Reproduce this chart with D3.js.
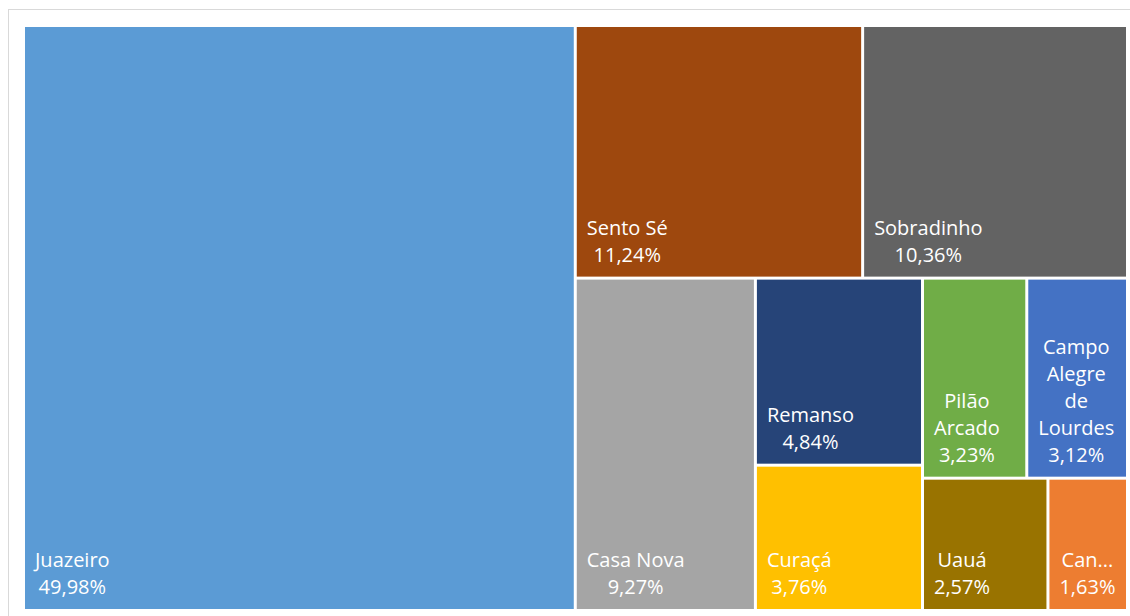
<!DOCTYPE html>
<html>
<head>
<meta charset="utf-8">
<script src="https://cdn.jsdelivr.net/npm/d3@7"></script>
<style>
  body { margin: 0; background: #fff; }
  svg { display: block; }
</style>
</head>
<body>
<svg id="chart"></svg>
<script>
const names = ['Juazeiro', 'Sento Sé', 'Sobradinho', 'Casa Nova', 'Remanso', 'Curaçá',
  'Pilão Arcado', 'Campo Alegre de Lourdes', 'Uauá', 'Canudos']
const shares = [49.98, 11.24, 10.36, 9.27, 4.84, 3.76, 3.23, 3.12, 2.57, 1.63]
const colors = ['#5B9BD5', '#9E480E', '#636363', '#A5A5A5', '#264478', '#FFC000',
  '#70AD47', '#4472C4', '#997300', '#ED7D31']

const width = 1130
const height = 616
const area = {left: 25, top: 27, right: 1126, bottom: 609}
const pad = 10
const lineH = 27
const fontSize = 20

const svg = d3.select('#chart')
  .attr('width', width)
  .attr('height', height)

// chart frame
svg.append('rect')
  .attr('x', 8.5)
  .attr('y', 9.5)
  .attr('width', width)
  .attr('height', height)
  .attr('fill', '#fff')
  .attr('stroke', '#d9d9d9')

const root = d3.hierarchy({children: names.map((n, i) => ({name: n, value: shares[i], color: colors[i]}))})
  .sum(d => d.value || 0)
  .sort((a, b) => b.value - a.value)

d3.treemap()
  .tile(d3.treemapSquarify.ratio(1))
  .size([area.right - area.left, area.bottom - area.top])
  .paddingInner(3)(root)

const fmt = v => v.toFixed(2).replace('.', ',') + '%'

const cells = svg.append('g')
  .attr('transform', `translate(${area.left}, ${area.top})`)
  .selectAll('g')
  .data(root.leaves())
  .join('g')

cells.append('rect')
  .attr('x', d => d.x0)
  .attr('y', d => d.y0)
  .attr('width', d => d.x1 - d.x0)
  .attr('height', d => d.y1 - d.y0)
  .attr('fill', d => d.data.color)

cells.each(function(d) {
  const g = d3.select(this)
  const maxW = d.x1 - d.x0 - 2 * pad + 4
  const text = g.append('text')
    .attr('fill', '#fff')
    .attr('font-family', '"Open Sans", sans-serif')
    .attr('font-size', fontSize)
    .attr('text-anchor', 'middle')

  const probe = text.append('tspan')
  const measure = s => { probe.text(s); return probe.node().getComputedTextLength() }

  // wrap words, truncate a word that will not fit
  const lines = []
  let cur = ''
  d.data.name.split(' ').forEach(w => {
    if(measure(w) > maxW) {
      let k = w.length
      while(k > 1 && measure(w.slice(0, k) + '...') > maxW) k--
      w = w.slice(0, k) + '...'
    }
    const test = cur ? cur + ' ' + w : w
    if(cur && measure(test) > maxW) {
      lines.push(cur)
      cur = w
    } else {
      cur = test
    }
  })
  lines.push(cur)
  lines.push(fmt(d.value))

  const blockW = d3.max(lines, measure)
  probe.remove()

  const cellW = d.x1 - d.x0
  const cx = blockW + 2 * pad > cellW ? d.x0 + cellW / 2 : d.x0 + pad + blockW / 2
  const lastY = d.y1 - 15

  text.selectAll('tspan')
    .data(lines)
    .join('tspan')
    .attr('x', cx)
    .attr('y', (l, i) => lastY - (lines.length - 1 - i) * lineH)
    .text(l => l)
})
</script>
</body>
</html>
